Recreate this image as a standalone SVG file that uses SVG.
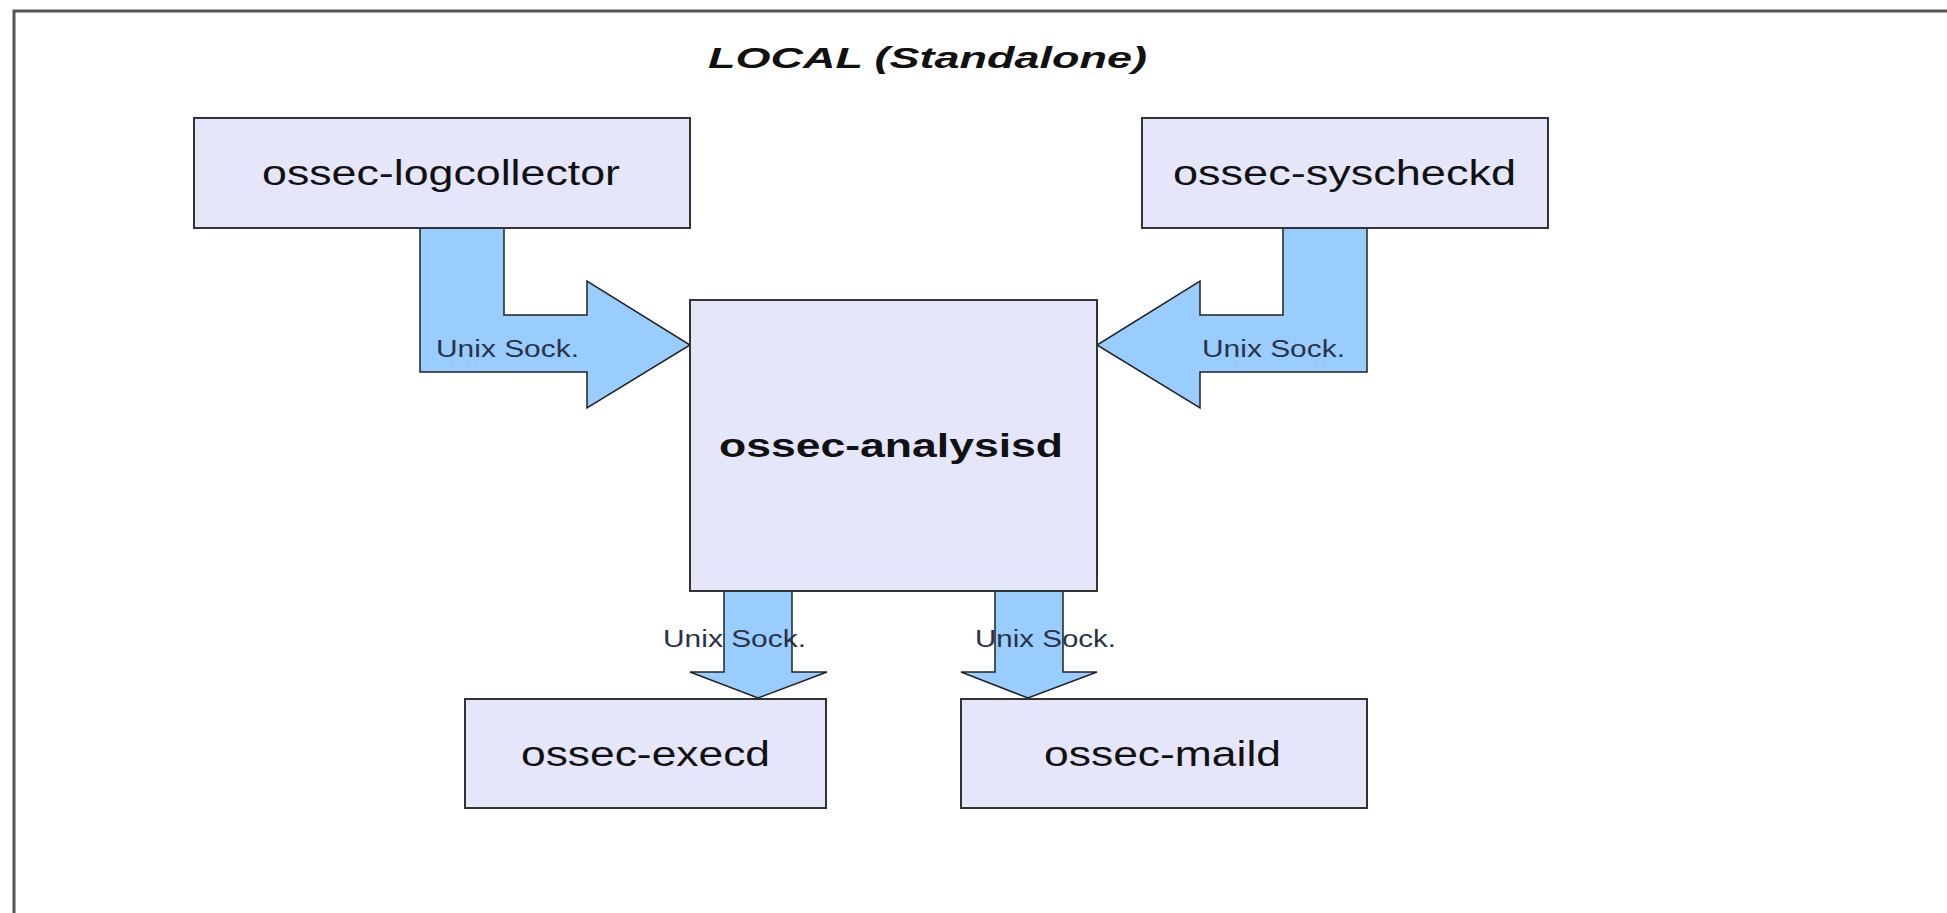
<svg xmlns="http://www.w3.org/2000/svg" width="1947" height="913" viewBox="0 0 1947 913">
  <style>
    .bg { fill: #ffffff; }
    .frame { fill: none; stroke: #555555; stroke-width: 3; }
    .box { fill: #e6e6fa; stroke: #333333; stroke-width: 2; }
    .arrow { fill: #99ccff; stroke: #222222; stroke-width: 1.5; stroke-linejoin: miter; }
    .t { font-family: "Liberation Sans", Arial, sans-serif; fill: #111111; }
    .name { font-size: 35px; }
    .bold { font-weight: bold; font-size: 34px; }
    .title { font-size: 30px; font-weight: bold; font-style: italic; }
    .lbl { font-family: "Liberation Sans", Arial, sans-serif; font-size: 23px; fill: #2a3248; }
  </style>
  <rect class="bg" x="0" y="0" width="1947" height="913"/>
  <path class="frame" d="M14,913 V11 H1947"/>
  <text class="t title" x="708" y="68" textLength="439" lengthAdjust="spacingAndGlyphs">LOCAL (Standalone)</text>

  <g id="connectors">
    <path class="arrow" d="M420,228 H504 V315 H587 V281 L690,345 L587,408 V372 H420 Z"/>
    <path class="arrow" d="M1367,228 H1283 V315 H1200 V281 L1097,345 L1200,408 V372 H1367 Z"/>
    <path class="arrow" d="M724,591 H792 V672 H827 L758,698 L690,672 H724 Z"/>
    <path class="arrow" d="M995,591 H1063 V672 H1097 L1028,698 L961,672 H995 Z"/>
    <text class="lbl" x="436" y="357" textLength="143" lengthAdjust="spacingAndGlyphs">Unix Sock.</text>
    <text class="lbl" x="1202" y="357" textLength="143" lengthAdjust="spacingAndGlyphs">Unix Sock.</text>
    <text class="lbl" x="663" y="647" textLength="143" lengthAdjust="spacingAndGlyphs">Unix Sock.</text>
    <text class="lbl" x="975" y="647" textLength="141" lengthAdjust="spacingAndGlyphs">Unix Sock.</text>
  </g>

  <g id="node-logcollector">
    <rect class="box" x="194" y="118" width="496" height="110"/>
    <text class="t name" x="262" y="185" textLength="358" lengthAdjust="spacingAndGlyphs">ossec-logcollector</text>
  </g>
  <g id="node-syscheckd">
    <rect class="box" x="1142" y="118" width="406" height="110"/>
    <text class="t name" x="1173" y="185" textLength="343" lengthAdjust="spacingAndGlyphs">ossec-syscheckd</text>
  </g>
  <g id="node-analysisd">
    <rect class="box" x="690" y="300" width="407" height="291"/>
    <text class="t bold" x="719" y="457" textLength="344" lengthAdjust="spacingAndGlyphs">ossec-analysisd</text>
  </g>
  <g id="node-execd">
    <rect class="box" x="465" y="699" width="361" height="109"/>
    <text class="t name" x="521" y="766" textLength="249" lengthAdjust="spacingAndGlyphs">ossec-execd</text>
  </g>
  <g id="node-maild">
    <rect class="box" x="961" y="699" width="406" height="109"/>
    <text class="t name" x="1044" y="766" textLength="237" lengthAdjust="spacingAndGlyphs">ossec-maild</text>
  </g>
</svg>
